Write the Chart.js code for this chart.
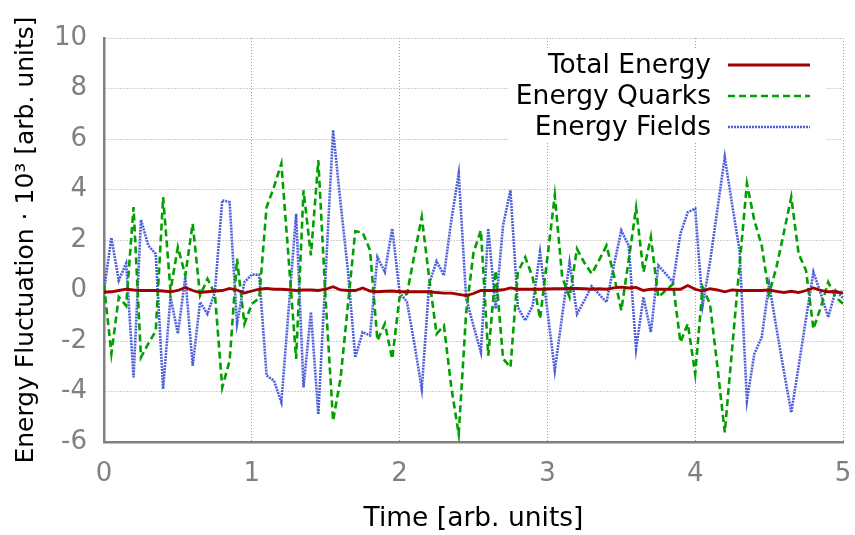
<!DOCTYPE html>
<html lang="en">
<head>
  <meta charset="UTF-8">
  <title>Energy Fluctuation</title>
  <script src="https://cdn.jsdelivr.net/npm/chart.js"></script>
  <style>
    body { margin: 0; background: #fff; }
    #wrap { width: 855px; height: 535px; }
  </style>
</head>
<body>
<div id="wrap"><canvas id="energyChart" width="855" height="535"></canvas></div>
<script>
  // Time axis (arb. units)
  const time = [
    0, 0.05, 0.1, 0.15, 0.2, 0.25, 0.3, 0.35, 0.4, 0.45,
    0.5, 0.55, 0.6, 0.65, 0.7, 0.75, 0.8, 0.85, 0.9, 0.95,
    1.0, 1.05, 1.1, 1.15, 1.2, 1.25, 1.3, 1.35, 1.4, 1.45,
    1.5, 1.55, 1.6, 1.65, 1.7, 1.75, 1.8, 1.85, 1.9, 1.95,
    2.0, 2.05, 2.1, 2.15, 2.2, 2.25, 2.3, 2.35, 2.4, 2.45,
    2.5, 2.55, 2.6, 2.65, 2.7, 2.75, 2.8, 2.85, 2.9, 2.95,
    3.0, 3.05, 3.1, 3.15, 3.2, 3.25, 3.3, 3.35, 3.4, 3.45,
    3.5, 3.55, 3.6, 3.65, 3.7, 3.75, 3.8, 3.85, 3.9, 3.95,
    4.0, 4.05, 4.1, 4.15, 4.2, 4.25, 4.3, 4.35, 4.4, 4.45,
    4.5, 4.55, 4.6, 4.65, 4.7, 4.75, 4.8, 4.85, 4.9, 4.95,
    5.0
  ];

  // Total Energy
  const totalEnergy = [
    -0.07, -0.05, 0.0, 0.05, 0.02, 0.0, 0.0, 0.0, -0.02, -0.05,
    0.0, 0.12, 0.0, -0.08, -0.05, -0.02, 0.0, 0.08, 0.02, -0.1,
    -0.02, 0.05, 0.08, 0.05, 0.05, 0.03, 0.0, 0.02, 0.02, 0.0,
    0.05, 0.15, 0.02, 0.0, 0.0, 0.1, -0.02, -0.05, -0.03, -0.02,
    -0.05, -0.05, -0.05, -0.05, -0.05, -0.08, -0.1, -0.1, -0.15, -0.2,
    -0.12, 0.0, 0.0, 0.0, 0.03, 0.1, 0.05, 0.05, 0.05, 0.05,
    0.06, 0.07, 0.07, 0.08, 0.08, 0.07, 0.05, 0.07, 0.05, 0.1,
    0.13, 0.1, 0.12, 0.0, 0.05, 0.05, 0.05, 0.05, 0.05, 0.2,
    0.05, -0.02, 0.07, 0.02, -0.05, 0.02, 0.0, 0.0, 0.0, 0.0,
    0.02, -0.03, -0.08, -0.03, -0.08, 0.0, 0.1, 0.0, -0.05, -0.05,
    -0.1
  ];

  // Energy Quarks
  const energyQuarks = [
    0.2, -2.5, -0.26, -0.6, 3.3, -2.65, -2.1, -1.6, 3.7, 0.0,
    1.72, 0.6, 2.65, -0.2, 0.46, -0.13, -3.84, -2.78, 1.26, -1.32,
    -0.53, -0.3, 3.3, 4.1, 5.03, 1.19, -2.71, 3.97, 1.39, 5.16,
    -0.4, -5.16, -3.5, -0.6, 2.35, 2.3, 1.59, -1.98, -1.32, -2.71,
    -0.26, -0.13, 1.4, 2.91, 0.5, -1.72, -1.39, -3.84, -5.69, -0.9,
    1.5, 2.38, -2.58, 0.79, -2.7, -3.04, 0.73, 1.32, 0.53, -1.12,
    1.3, 3.77, 0.53, -0.26, 1.65, 1.1, 0.66, 1.2, 1.78, 0.6,
    -0.79, 1.2, 3.28, 0.73, 2.12, -0.26, 0.0, 0.26, -2.05, -1.32,
    -3.3, 0.13, -0.53, -3.0, -5.62, -2.3, 1.0, 4.23, 2.78, 1.78,
    -0.13, 0.93, 2.3, 3.7, 1.45, 0.79, -1.52, -0.66, 0.33, -0.26,
    -0.53
  ];

  // Energy Fields
  const energyFields = [
    0.0, 2.09, 0.4, 1.07, -3.44, 2.8, 1.78, 1.45, -3.9, -0.26,
    -1.71, 0.53, -2.98, -0.46, -0.93, -0.07, 3.57, 3.5, -1.32, 0.33,
    0.63, 0.63, -3.37, -3.57, -4.43, -0.7, 3.04, -3.84, -0.86, -4.9,
    0.7, 6.35, 3.5, 0.8, -2.65, -1.65, -1.78, 1.32, 0.73, 2.45,
    -0.07, -0.46, -2.1, -3.9, 0.26, 1.16, 0.6, 2.78, 4.63, -0.3,
    -1.4, -2.45, 2.45, -0.73, 2.58, 3.97, -0.66, -1.19, -0.6, 1.52,
    -0.8, -3.17, -1.0, 1.12, -0.93, -0.4, 0.17, -0.15, -0.46, 1.0,
    2.38, 1.78, -2.31, -0.26, -1.65, 0.99, 0.67, 0.33, 2.25, 3.1,
    3.24, -0.6, 1.12, 3.2, 5.29, 3.4, 1.59, -4.37, -2.51, -1.85,
    0.26, -1.5, -3.2, -4.83, -3.0, -1.1, 0.73, -0.13, -1.06, 0.0,
    -0.3
  ];

  const xTicks = [0, 1, 2, 3, 4, 5];
  const yTicks = [-6, -4, -2, 0, 2, 4, 6, 8, 10];

  const toPoints = (ys) => ys.map((y, i) => ({ x: time[i], y: y }));

  // legend drawn inside the plot, gnuplot style (text right, sample line)
  const insideLegend = {
    id: 'insideLegend',
    afterDraw(chart) {
      const ctx = chart.ctx;
      ctx.save();
      ctx.fillStyle = '#fff';
      ctx.fillRect(508, 50, 318, 93);
      ctx.font = '26.5px "DejaVu Sans"';
      ctx.textAlign = 'right';
      ctx.textBaseline = 'middle';
      chart.data.datasets.forEach((ds, i) => {
        const y = 65 + i * 31;
        ctx.fillStyle = '#000';
        ctx.fillText(ds.label, 711, y + 1);
        ctx.strokeStyle = ds.borderColor;
        ctx.lineWidth = ds.borderWidth;
        ctx.setLineDash(ds.borderDash || []);
        ctx.beginPath();
        ctx.moveTo(728, y);
        ctx.lineTo(810, y);
        ctx.stroke();
      });
      ctx.restore();
    }
  };

  const tickFont = { family: 'DejaVu Sans', size: 26 };

  const ctx = document.getElementById('energyChart').getContext('2d');
  new Chart(ctx, {
    type: 'line',
    data: {
      datasets: [
        {
          label: 'Total Energy',
          data: toPoints(totalEnergy),
          borderColor: '#a00000',
          borderWidth: 2.8,
          pointRadius: 0,
          tension: 0
        },
        {
          label: 'Energy Quarks',
          data: toPoints(energyQuarks),
          borderColor: '#00a000',
          borderWidth: 2.6,
          borderDash: [7, 4],
          pointRadius: 0,
          tension: 0
        },
        {
          label: 'Energy Fields',
          data: toPoints(energyFields),
          borderColor: '#4b5ed8',
          borderWidth: 2.6,
          borderDash: [2, 1],
          pointRadius: 0,
          tension: 0
        }
      ]
    },
    options: {
      responsive: false,
      animation: false,
      devicePixelRatio: 1,
      layout: { padding: { top: 38, right: 12, left: 0, bottom: 0 } },
      plugins: {
        legend: { display: false },
        tooltip: { enabled: false }
      },
      scales: {
        x: {
          type: 'linear',
          min: 0,
          max: 5,
          afterBuildTicks: (scale) => { scale.ticks = xTicks.map(v => ({ value: v })); },
          afterFit: (scale) => {
            scale.height = 93;
            scale.paddingLeft = 0;
            scale.paddingRight = 0;
          },
          ticks: { color: '#808080', font: tickFont, padding: 17 },
          grid: { color: '#a0a0a0', lineWidth: 1, drawTicks: false },
          border: { display: true, color: '#808080', width: 2.5, dash: [1, 2] },
          title: {
            display: true,
            text: 'Time [arb. units]',
            color: '#000',
            font: { family: 'DejaVu Sans', size: 26.5 },
            padding: { top: 0, bottom: 0 }
          }
        },
        y: {
          min: -6,
          max: 10,
          afterBuildTicks: (scale) => { scale.ticks = yTicks.map(v => ({ value: v })); },
          afterFit: (scale) => {
            scale.width = 104;
            scale.paddingTop = 0;
            scale.paddingBottom = 0;
          },
          ticks: { color: '#808080', font: tickFont, padding: 17 },
          grid: { color: '#a0a0a0', lineWidth: 1, drawTicks: false },
          border: { display: true, color: '#808080', width: 2.5, dash: [1, 2] },
          title: {
            display: true,
            text: 'Energy Fluctuation · 10³ [arb. units]',
            color: '#000',
            font: { family: 'DejaVu Sans', size: 25 },
            padding: { top: 11, bottom: 0 }
          }
        }
      }
    },
    plugins: [insideLegend]
  });
</script>
</body>
</html>
